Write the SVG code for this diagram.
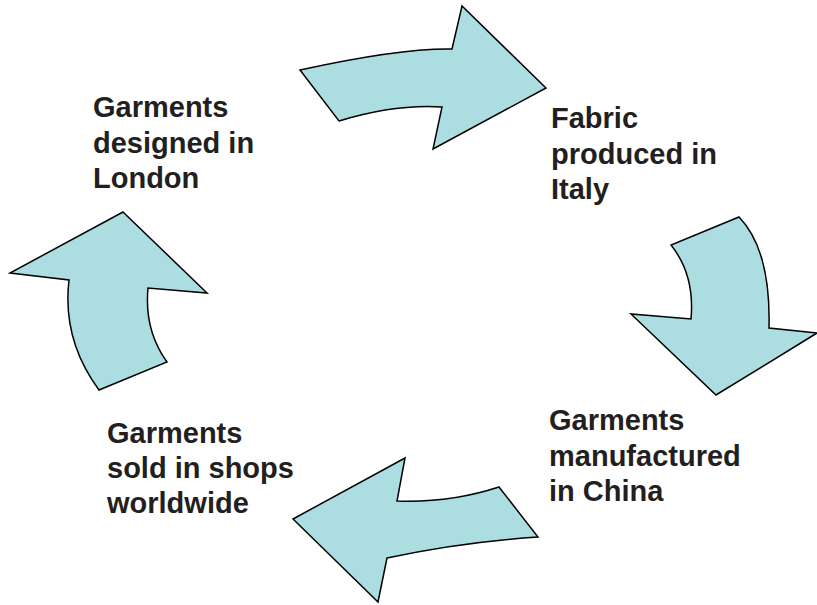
<svg xmlns="http://www.w3.org/2000/svg" width="817" height="605" viewBox="0 0 817 605">
<style>
.arr{fill:#acdde0;stroke:#000;stroke-width:1.5;stroke-linejoin:miter}
.lbl{font-family:"Liberation Sans",Arial,sans-serif;font-weight:bold;font-size:29px;fill:#231f20}
</style>
<rect width="817" height="605" fill="#fff"/>
<g id="connectors">
<path id="arrow-top" class="arr" d="M300,70 Q400,48 452,49 L462,6 L546,88 L433,149 L442,107 Q395,104 339,121 Z"/>
<path id="arrow-right" class="arr" d="M739,217 Q771,250 769,328 L817,333 L716,395 L631,314 L691,319 Q695,275 671,245 Z"/>
<path id="arrow-bottom" class="arr" d="M499,487 L538,537 Q462,542 387,558 L378,602 L293,519 L405,458 L397,501 Q450,503 499,487 Z"/>
<path id="arrow-left" class="arr" d="M123,212 L207,293 L148,288 Q144,330 167,362 L99,390 Q62,340 69,280 L10,273 Z"/>
</g>
<g id="node-london">
<text class="lbl" x="93" y="117">Garments</text>
<text class="lbl" x="93" y="152.5">designed in</text>
<text class="lbl" x="93" y="188">London</text>
</g>
<g id="node-italy">
<text class="lbl" x="551" y="128">Fabric</text>
<text class="lbl" x="551" y="163.5">produced in</text>
<text class="lbl" x="551" y="199">Italy</text>
</g>
<g id="node-china">
<text class="lbl" x="549" y="430">Garments</text>
<text class="lbl" x="549" y="465.5">manufactured</text>
<text class="lbl" x="549" y="501">in China</text>
</g>
<g id="node-shops">
<text class="lbl" x="107" y="443">Garments</text>
<text class="lbl" x="107" y="478">sold in shops</text>
<text class="lbl" x="107" y="513">worldwide</text>
</g>
</svg>
